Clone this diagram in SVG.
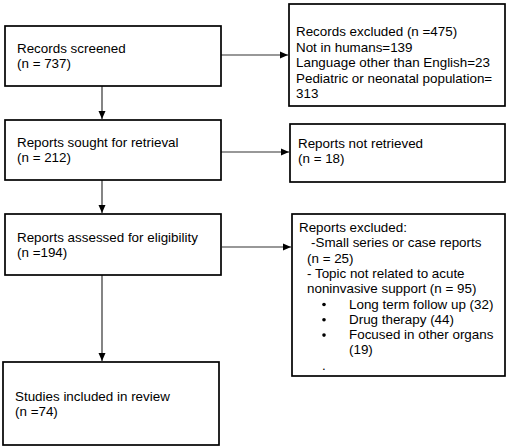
<svg xmlns="http://www.w3.org/2000/svg" width="510" height="448" viewBox="0 0 510 448">
<defs>
<style>
.box{fill:#fff;stroke:#000;stroke-width:1.7}
.t{font-family:"Liberation Sans",Arial,sans-serif;font-size:13.4px;fill:#000}
.c{stroke:#333;stroke-width:1.2;fill:none}
</style>
<marker id="ah" markerWidth="8" markerHeight="8" refX="8" refY="4" orient="auto" markerUnits="userSpaceOnUse">
<path d="M0,0.5 L8,4 L0,7.5 Z" fill="#000"/>
</marker>
</defs>
<rect width="510" height="448" fill="#fff"/>
<g id="connectors">
<line class="c" x1="102" y1="86" x2="102" y2="119" marker-end="url(#ah)"/>
<line class="c" x1="102" y1="180" x2="102" y2="213" marker-end="url(#ah)"/>
<line class="c" x1="102" y1="275" x2="102" y2="361" marker-end="url(#ah)"/>
<line class="c" x1="221" y1="55" x2="288" y2="55" marker-end="url(#ah)"/>
<line class="c" x1="221" y1="152" x2="289" y2="152" marker-end="url(#ah)"/>
<line class="c" x1="222" y1="247" x2="291" y2="247" marker-end="url(#ah)"/>
</g>
<g id="n1">
<rect class="box" x="5" y="26" width="216" height="60"/>
<text class="t" x="17" y="53">Records screened</text>
<text class="t" x="17" y="68">(n = 737)</text>
</g>
<g id="n2">
<rect class="box" x="289" y="4" width="216" height="102"/>
<text class="t" x="296" y="36">Records excluded (n =475)</text>
<text class="t" x="296" y="51.5">Not in humans=139</text>
<text class="t" x="296" y="67">Language other than English=23</text>
<text class="t" x="296" y="82.5">Pediatric or neonatal population=</text>
<text class="t" x="296" y="98">313</text>
</g>
<g id="n3">
<rect class="box" x="5" y="120" width="216" height="60"/>
<text class="t" x="17" y="147">Reports sought for retrieval</text>
<text class="t" x="17" y="162">(n = 212)</text>
</g>
<g id="n4">
<rect class="box" x="290" y="124" width="215" height="58"/>
<text class="t" x="298" y="148">Reports not retrieved</text>
<text class="t" x="298" y="163">(n = 18)</text>
</g>
<g id="n5">
<rect class="box" x="5" y="214" width="216" height="61"/>
<text class="t" x="17" y="242">Reports assessed for eligibility</text>
<text class="t" x="17" y="257">(n =194)</text>
</g>
<g id="n6">
<rect class="box" x="292" y="214" width="213" height="162"/>
<text class="t" x="299" y="232">Reports excluded:</text>
<text class="t" x="311" y="247.3">-Small series or case reports</text>
<text class="t" x="307" y="262.6">(n = 25)</text>
<text class="t" x="307" y="277.9">- Topic not related to acute</text>
<text class="t" x="307" y="293.2">noninvasive support (n = 95)</text>
<circle cx="324" cy="304.5" r="1.8"/>
<text class="t" x="349" y="308.5">Long term follow up (32)</text>
<circle cx="324" cy="319.8" r="1.8"/>
<text class="t" x="349" y="323.8">Drug therapy (44)</text>
<circle cx="324" cy="335.1" r="1.8"/>
<text class="t" x="349" y="339.1">Focused in other organs</text>
<text class="t" x="349" y="354.4">(19)</text>
<text class="t" x="322" y="369.7">.</text>
</g>
<g id="n7">
<rect class="box" x="3" y="362" width="216" height="83"/>
<text class="t" x="15" y="401">Studies included in review</text>
<text class="t" x="15" y="416">(n =74)</text>
</g>
</svg>
